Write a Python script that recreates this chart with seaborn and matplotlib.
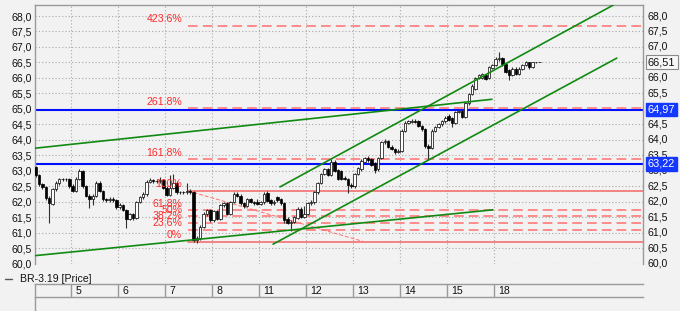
import numpy as np
import pandas as pd
import matplotlib
matplotlib.use("Agg")
import matplotlib.pyplot as plt
from matplotlib.lines import Line2D
import matplotlib.transforms as mtransforms
import seaborn as sns

# ---------------- data ----------------
opens = [63.13, 62.85, 62.58, 62.47, 62.12, 61.92, 62.40, 62.60, 62.72, 62.72, 62.74,
         62.50, 62.35, 62.75, 63.00, 62.50, 62.20, 62.08, 62.20, 62.62, 62.35, 62.08, 62.05, 62.10, 62.05,
         61.82, 61.90, 61.75, 61.45, 61.60, 61.48, 62.00, 62.17, 62.25, 62.65, 62.70, 62.68, 62.66, 62.70,
         62.45, 62.22, 62.45, 62.62, 62.30, 62.32, 62.30, 62.35, 62.30, 60.78, 60.82, 61.20, 61.62, 61.72,
         61.40, 61.70, 61.45, 61.88, 61.95, 61.62, 62.00, 62.25, 62.20, 61.95, 61.85, 62.08, 62.00, 62.00,
         61.92, 61.98, 62.28, 62.05, 61.95, 62.15, 62.08, 61.95, 61.45, 61.33, 61.35, 61.48, 61.78, 61.52,
         61.60, 61.95, 61.98, 62.30, 62.60, 62.90, 63.05, 62.88, 63.30, 63.02, 63.00, 62.78, 62.75, 62.55,
         62.50, 62.90, 63.05, 63.30, 63.40, 63.38, 63.25, 63.05, 63.42, 63.92, 63.95, 63.78, 63.72, 63.60,
         63.65, 64.30, 64.55, 64.58, 64.62, 64.60, 64.45, 64.35, 63.80, 63.75, 64.30, 64.42, 64.50, 64.60,
         64.78, 64.70, 64.55, 64.90, 64.92, 64.75, 65.18, 65.48, 65.65, 66.00, 66.00, 66.10, 66.00, 66.33,
         66.42, 66.60, 66.65, 66.45, 66.25, 66.10, 66.30, 66.12, 66.30, 66.42, 66.50, 66.35, 66.50, 66.51]
closes = [62.85, 62.58, 62.47, 62.12, 61.95, 62.40, 62.60, 62.72, 62.72, 62.74, 62.50,
          62.35, 62.75, 63.00, 62.50, 62.20, 62.08, 62.20, 62.62, 62.35, 62.08, 62.05, 62.10, 62.05, 61.82,
          61.90, 61.75, 61.45, 61.60, 61.48, 62.00, 62.17, 62.25, 62.65, 62.70, 62.68, 62.66, 62.70, 62.45,
          62.22, 62.45, 62.62, 62.30, 62.32, 62.30, 62.35, 62.30, 60.78, 60.82, 61.20, 61.62, 61.72, 61.40,
          61.70, 61.45, 61.88, 61.95, 61.62, 62.00, 62.25, 62.20, 61.95, 61.85, 62.08, 62.00, 61.95, 61.92,
          61.98, 62.25, 62.02, 61.95, 62.00, 62.05, 61.95, 61.40, 61.33, 61.35, 61.50, 61.78, 61.52, 61.60,
          61.95, 62.00, 62.30, 62.60, 62.90, 63.05, 62.88, 63.30, 63.00, 62.75, 62.75, 62.75, 62.55, 62.50,
          62.90, 63.08, 63.33, 63.40, 63.35, 63.20, 63.03, 63.42, 63.92, 63.97, 63.78, 63.72, 63.60, 63.65,
          64.30, 64.55, 64.60, 64.62, 64.58, 64.45, 64.35, 63.80, 63.75, 64.30, 64.42, 64.52, 64.60, 64.72,
          64.65, 64.55, 64.90, 64.92, 64.75, 65.18, 65.48, 65.75, 66.00, 66.08, 66.12, 65.98, 66.35, 66.42,
          66.62, 66.65, 66.45, 66.20, 66.10, 66.30, 66.12, 66.30, 66.42, 66.50, 66.35, 66.50, 66.51, 66.51]
highs = [63.17, 62.90, 62.62, 62.50, 62.18, 62.45, 62.66, 62.76, 62.76, 62.78, 62.78,
         62.58, 62.80, 63.06, 63.04, 62.55, 62.25, 62.24, 62.66, 62.66, 62.38, 62.12, 62.14, 62.14, 62.08,
         61.95, 61.94, 61.78, 61.65, 61.64, 62.04, 62.20, 62.30, 62.70, 62.76, 62.74, 62.72, 62.80, 62.74,
         62.50, 62.87, 62.90, 62.66, 62.36, 62.36, 62.60, 62.40, 62.34, 60.90, 61.25, 61.68, 61.76, 61.76,
         61.75, 61.74, 61.92, 62.00, 61.98, 62.04, 62.30, 62.32, 62.24, 62.00, 62.12, 62.12, 62.04, 62.10,
         62.02, 62.30, 62.35, 62.10, 62.05, 62.18, 62.12, 61.98, 61.52, 61.40, 61.55, 61.82, 61.82, 61.85,
         61.98, 62.05, 62.34, 62.64, 62.94, 63.10, 63.08, 63.37, 63.34, 63.06, 63.04, 62.82, 62.78, 62.60,
         62.94, 63.12, 63.37, 63.44, 63.48, 63.42, 63.28, 63.46, 63.96, 64.02, 63.98, 63.82, 63.75, 63.70,
         64.34, 64.60, 64.65, 64.66, 64.66, 64.63, 64.48, 64.38, 63.85, 64.34, 64.46, 64.56, 64.64, 64.76,
         64.82, 64.74, 64.94, 64.96, 64.96, 65.22, 65.52, 65.80, 66.04, 66.12, 66.16, 66.14, 66.38, 66.46,
         66.66, 66.85, 66.68, 66.48, 66.30, 66.34, 66.34, 66.34, 66.46, 66.54, 66.52, 66.53, 66.53, 66.52]
lows = [62.80, 62.52, 62.40, 62.05, 61.33, 61.88, 62.35, 62.55, 62.68, 62.68, 62.45,
        62.30, 62.30, 62.70, 62.46, 62.15, 61.80, 61.90, 62.15, 62.30, 62.02, 62.00, 62.00, 62.00, 61.78,
        61.76, 61.70, 61.15, 61.40, 61.42, 61.45, 61.95, 62.10, 62.20, 62.60, 62.62, 62.60, 62.60, 62.40,
        62.18, 62.18, 62.40, 62.25, 62.26, 62.25, 62.26, 62.25, 60.70, 60.68, 60.78, 61.15, 61.55, 61.35,
        61.35, 61.40, 61.40, 61.84, 61.58, 61.58, 61.96, 62.15, 61.90, 61.80, 61.82, 61.96, 61.90, 61.88,
        61.88, 61.94, 61.98, 61.90, 61.90, 62.00, 61.90, 61.30, 61.28, 61.05, 61.30, 61.44, 61.48, 61.48,
        61.56, 61.90, 61.94, 62.26, 62.56, 62.86, 62.84, 62.84, 62.96, 62.70, 62.70, 62.70, 62.28, 62.45,
        62.46, 62.86, 63.00, 63.26, 63.30, 63.15, 62.92, 63.00, 63.38, 63.88, 63.74, 63.68, 63.55, 63.56,
        63.60, 64.26, 64.50, 64.54, 64.54, 64.40, 64.30, 63.75, 63.35, 63.70, 64.26, 64.38, 64.46, 64.56,
        64.60, 64.42, 64.50, 64.86, 64.70, 64.70, 65.14, 65.44, 65.60, 65.96, 65.96, 65.94, 65.96, 66.30,
        66.38, 66.56, 66.40, 66.16, 65.94, 66.06, 66.08, 66.08, 66.26, 66.38, 66.30, 66.32, 66.48, 66.50]

day_labels = ["5", "6", "7", "8", "11", "12", "13", "14", "15", "18"]
first_day_candles = 11
candles_per_day = 14

fib_low = 60.70
fib_high = 62.35
fib_levels = [0, 23.6, 38.2, 50, 61.8, 100, 161.8, 261.8, 423.6]
fib_labels = ["0%", "23.6%", "38.2%", "50%", "61.8%", "100%", "161.8%", "261.8%", "423.6%"]
fib_start = 45.35          # candle index where fib lines begin
fib_label_x = 43.6
fib_diag = [(45.35, 62.35), (97.5, 60.72)]

blue_levels = [64.97, 63.22]
blue_labels = ["64,97", "63,22"]
last_price = 66.51
last_label = "66,51"

trend_x0 = [-0.22, -0.22, 72.76, 70.7]
trend_y0 = [63.73, 60.26, 62.48, 60.63]
trend_x1 = [135.9, 136.2, 172.0, 173.1]
trend_y1 = [65.31, 61.74, 68.35, 66.64]

y_ticks = [60.0 + 0.5 * k for k in range(17)]
right_hidden = [65.0, 66.5]
legend_label = "BR-3.19 [Price]"

# ---------------- style ----------------
sns.set_theme(style="white")
plt.rcParams["font.family"] = ["Liberation Sans", "DejaVu Sans"]
FS = 7.6
BG = "#f2f2f2"
GRID = "#a9a9a9"
FRAME = "#9a9a9a"

W, H = 680, 311
fig = plt.figure(figsize=(W / 100, H / 100), dpi=100, facecolor=BG)
L, R, T, B = 35, 643, 4.7, 264
ax = fig.add_axes([L / W, 1 - B / H, (R - L) / W, (B - T) / H])
ax.set_facecolor(BG)
XMIN, XMAX = -0.22, 180.9
ax.set_xlim(XMIN, XMAX)
ax.set_ylim(59.99, 68.365)

n = len(closes)
x = np.arange(n)
df = pd.DataFrame({"x": x, "open": opens, "high": highs, "low": lows, "close": closes})

# grid
for yv in y_ticks:
    ax.axhline(yv, color=GRID, lw=0.8, ls=(0, (1, 2)), zorder=0)
bounds = [first_day_candles - 0.5 + candles_per_day * k for k in range(len(day_labels))]
for bx in bounds:
    ax.axvline(bx, color=GRID, lw=0.8, ls=(0, (1, 2)), zorder=0)

# blue levels
for lv in blue_levels:
    ax.axhline(lv, color="#0010ff", lw=1.5, zorder=2)

# fib levels
rng = fib_high - fib_low
for lvl, lab in zip(fib_levels, fib_labels):
    price = fib_low + lvl / 100.0 * rng
    if lvl in (0, 100):
        ax.plot([fib_start, XMAX], [price, price], color="#f27a7a", lw=1.3, zorder=3)
    else:
        ax.plot([fib_start, XMAX], [price, price], color="#ff8c8c", lw=1.4,
                ls=(0, (5, 2.6)), zorder=3)
    ax.annotate(lab, xy=(fib_label_x, price), xytext=(0, 1.2), textcoords="offset points",
                ha="right", va="bottom", color="#ff2a2a", fontsize=FS, zorder=6)
ax.plot([p[0] for p in fib_diag], [p[1] for p in fib_diag], color="#ff7070", lw=0.7,
        ls=(0, (4, 2)), zorder=3)

# candles
wick_c = "#303030"
ax.vlines(df["x"], df["low"], df["high"], color=wick_c, lw=0.8, zorder=4)
body_bottom = np.minimum(df["open"], df["close"])
body_h = np.maximum(np.abs(df["close"] - df["open"]), 0.012)
face = ["black" if c < o else "white" for o, c in zip(opens, closes)]
ax.bar(df["x"], body_h, bottom=body_bottom, width=0.74, color=face, edgecolor="black",
       linewidth=0.5, zorder=5)

# trend lines (seaborn)
for xa, ya, xb, yb in zip(trend_x0, trend_y0, trend_x1, trend_y1):
    sns.lineplot(x=[xa, xb], y=[ya, yb], ax=ax, color="#118a11", lw=1.2, zorder=6)

# spines / ticks
for s in ["top", "left", "right"]:
    ax.spines[s].set_visible(True)
    ax.spines[s].set_color(FRAME)
    ax.spines[s].set_linewidth(1.0)
ax.spines["bottom"].set_visible(False)
ax.set_xticks([])
ax.set_yticks(y_ticks)
ax.set_yticklabels([f"{v:.1f}".replace(".", ",") for v in y_ticks], fontsize=FS, color="#111111")
ax.tick_params(axis="y", length=0, pad=2)
ax.set_xlabel("")
ax.set_ylabel("")

# right-hand labels
tr = mtransforms.blended_transform_factory(ax.transAxes, ax.transData)
rx = 1 + 5 / (R - L)
for v in y_ticks:
    if v in right_hidden:
        continue
    ax.text(rx, v, f"{v:.1f}".replace(".", ","), transform=tr, ha="left", va="center",
            fontsize=FS, color="#111111", clip_on=False)
for lv, lab in zip(blue_levels, blue_labels):
    ax.text(rx, lv, lab, transform=tr, ha="left", va="center", fontsize=FS + 0.3, color="white",
            clip_on=False, zorder=10,
            bbox=dict(boxstyle="square,pad=0.15", fc="#1438ff", ec="#1438ff"))
ax.text(rx, last_price, last_label, transform=tr, ha="left", va="center", fontsize=FS + 0.3,
        color="#111111", clip_on=False, zorder=10,
        bbox=dict(boxstyle="square,pad=0.2", fc="#f7f7f7", ec="#8a8a8a", lw=0.8))

# legend row
fig.add_artist(Line2D([5 / W, 12 / W], [1 - 279 / H, 1 - 279 / H], color="#555555", lw=1.0))
fig.text(20 / W, 1 - 279 / H, legend_label, ha="left", va="center", fontsize=FS, color="#111111")

# x-axis strip
sx = fig.add_axes([L / W, 1 - 297 / H, (R - L) / W, 13 / H])
sx.set_facecolor(BG)
sx.set_xlim(XMIN, XMAX)
sx.set_ylim(0, 1)
sx.set_xticks([])
sx.set_yticks([])
for s in ["top", "bottom", "left"]:
    sx.spines[s].set_visible(True)
    sx.spines[s].set_color(FRAME)
    sx.spines[s].set_linewidth(1.0)
sx.spines["right"].set_visible(False)
for bx, lab in zip(bounds, day_labels):
    sx.axvline(bx, color=FRAME, lw=1.0)
    sx.annotate(lab, xy=(bx, 0.5), xytext=(3, 0), textcoords="offset points",
                ha="left", va="center", fontsize=FS, color="#111111")
fig.add_artist(Line2D([L / W, L / W], [0, 1 - 297 / H], color=FRAME, lw=1.0))

fig.savefig("out.png", dpi=100, facecolor=BG)
